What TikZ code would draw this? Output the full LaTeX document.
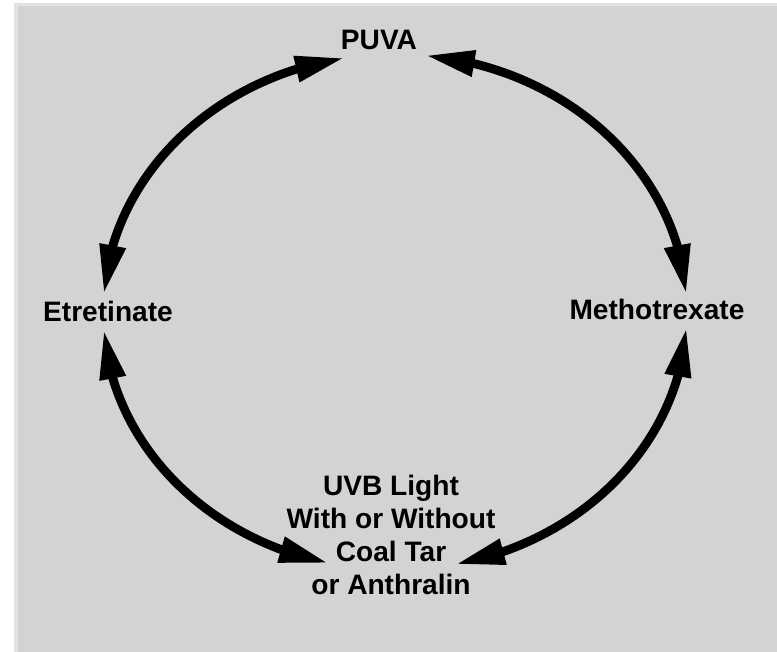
\documentclass[tikz,border=0pt]{standalone}
\usepackage{fontspec}
\setmainfont{Liberation Sans}
\usetikzlibrary{arrows.meta,bending}
\definecolor{panel}{RGB}{211,211,211}
\definecolor{panelrim}{RGB}{226,226,226}

\begin{document}
\begin{tikzpicture}[x=0.02cm,y=0.02cm,
  >={Triangle[length=28pt,width=14pt]},
  loopedge/.style={line width=5pt,<->},
  stage/.style={font=\fontsize{16}{18.7}\selectfont\bfseries,inner sep=1pt,align=center}
]
\useasboundingbox (0,0) rectangle (777,652);
% grey panel
\fill[panelrim] (14,0) rectangle (777,649);
\fill[panel] (18,0) rectangle (777,646);
\def\rx{292}
\def\ry{258}
% treatments round the ring
\node[stage] (puva)  at (379,612) {PUVA};
\node[stage] (etret) at (108,341) {Etretinate};
\node[stage] (mtx)   at (657,343) {Methotrexate};
\node[stage] (uvb)   at (391,117) {UVB Light\\With or Without\\Coal Tar\\or Anthralin};
% start of each arc on the ellipse
\foreach \n/\t in {tl/100,tr/84,br/-3.5,bl/184}
  \coordinate (\n) at ({395+\rx*cos(\t)},{340+\ry*sin(\t)});

% rotation arcs
\draw[loopedge] (tl) arc[start angle=100,end angle=176,x radius=\rx,y radius=\ry];
\draw[loopedge] (tr) arc[start angle=84,end angle=4,x radius=\rx,y radius=\ry];
\draw[loopedge] (br) arc[start angle=-3.5,end angle=-78,x radius=\rx,y radius=\ry];
\draw[loopedge] (bl) arc[start angle=184,end angle=256.8,x radius=\rx,y radius=\ry];
\end{tikzpicture}
\end{document}
